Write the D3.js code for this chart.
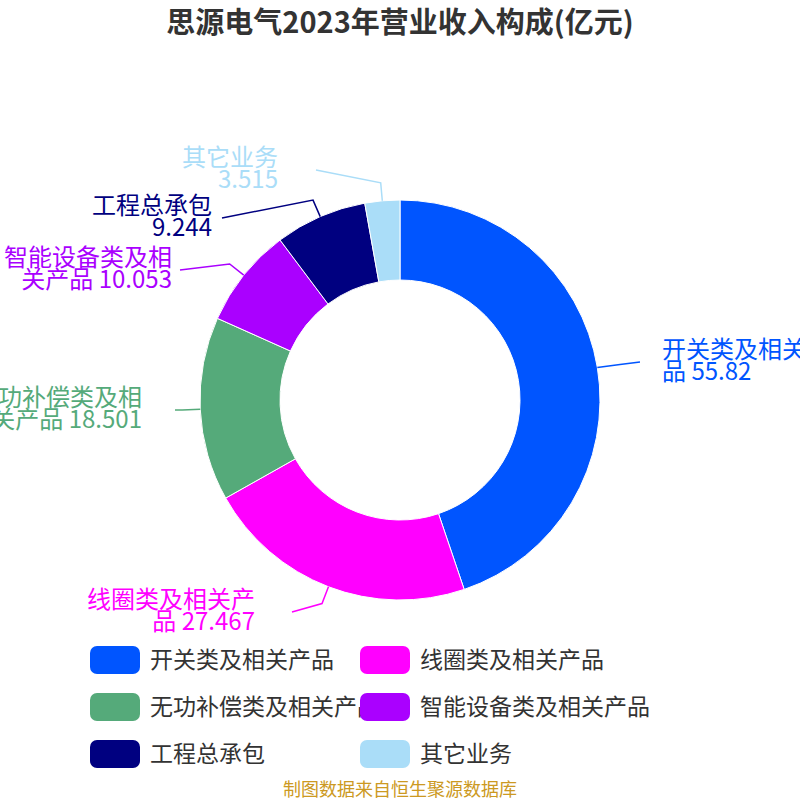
<!DOCTYPE html>
<html><head><meta charset="utf-8">
<script src="https://cdn.jsdelivr.net/npm/d3@7"></script>
<style>body{margin:0;background:#fff}</style>
</head><body>
<svg id="c" width="800" height="800"></svg>
<script>
// data
const names = ['开关类及相关产品', '线圈类及相关产品', '无功补偿类及相关产品', '智能设备类及相关产品', '工程总承包', '其它业务'];
const values = [55.82, 27.467, 18.501, 10.053, 9.244, 3.515];
const colors = ['#0055ff', '#ff00ff', '#55aa7a', '#aa00ff', '#000080', '#aaddf8'];
// wrapped label lines
const labelLines = [['开关类及相关产', '品 55.82'], ['线圈类及相关产', '品 27.467'], ['无功补偿类及相', '关产品 18.501'],
    ['智能设备类及相', '关产品 10.053'], ['工程总承包', '9.244'], ['其它业务', '3.515']];

const font = '"Noto Sans CJK SC", "Noto Sans", sans-serif';
const svg = d3.select('#c').style('font-family', font);
const cx = 400, cy = 400, R = 200, r = 120;

svg.append('text').attr('x', 400).attr('y', 33).attr('text-anchor', 'middle')
    .attr('font-size', 29).attr('font-weight', 'bold').attr('fill', '#333')
    .text('思源电气2023年营业收入构成(亿元)');

const pie = d3.pie().sort(null).value(d => d)(values);
const arc = d3.arc().innerRadius(r).outerRadius(R);
const g = svg.append('g').attr('transform', `translate(${cx},${cy})`);

g.selectAll('path').data(pie).enter().append('path')
    .attr('d', arc).attr('fill', (d, i) => colors[i])
    .attr('stroke', '#fff').attr('stroke-width', 1);

// label placement: line end point and text anchor
const labelPos = [
    {x: 640, y: 362, tx: 662, anchor: 'start'},
    {x: 292, y: 612, tx: 255, anchor: 'end'},
    {x: 175, y: 410, tx: 142, anchor: 'end'},
    {x: 180, y: 270, tx: 172, anchor: 'end'},
    {x: 222, y: 218, tx: 212, anchor: 'end'},
    {x: 316, y: 170, tx: 278, anchor: 'end'}
];

pie.forEach((d, i) => {
    const a = (d.startAngle + d.endAngle) / 2;
    const p0 = [cx + Math.sin(a) * R, cy - Math.cos(a) * R];
    const p1 = [cx + Math.sin(a) * (R + 18), cy - Math.cos(a) * (R + 18)];
    const lp = labelPos[i];
    let pts = [p0, p1, [lp.x, lp.y]];
    if (i === 0) pts = [p0, [lp.x - 20, p1[1]], [lp.x, lp.y]];
    svg.append('polyline').attr('points', pts.map(p => p.join(',')).join(' '))
        .attr('fill', 'none').attr('stroke', colors[i]).attr('stroke-width', 1.5);
    const t = svg.append('text').attr('text-anchor', lp.anchor)
        .attr('font-size', 24).attr('fill', colors[i]);
    labelLines[i].forEach((s, j) => {
        t.append('tspan').attr('x', lp.tx).attr('y', lp.y - 4 + j * 22).text(s);
    });
});

// legend
const legend = svg.append('g');
const lx = [90, 360], ly = [660, 707, 754];
names.forEach((n, i) => {
    const x = lx[i % 2], y = ly[Math.floor(i / 2)];
    legend.append('rect').attr('x', x).attr('y', y - 14).attr('width', 50).attr('height', 28)
        .attr('rx', 7).attr('fill', colors[i]);
    legend.append('text').attr('x', x + 60).attr('y', y + 8).attr('font-size', 23)
        .attr('fill', '#333').text(n);
});

svg.append('text').attr('x', 400).attr('y', 796).attr('text-anchor', 'middle')
    .attr('font-size', 18).attr('fill', '#cc9922').text('制图数据来自恒生聚源数据库');
</script>
</body></html>
